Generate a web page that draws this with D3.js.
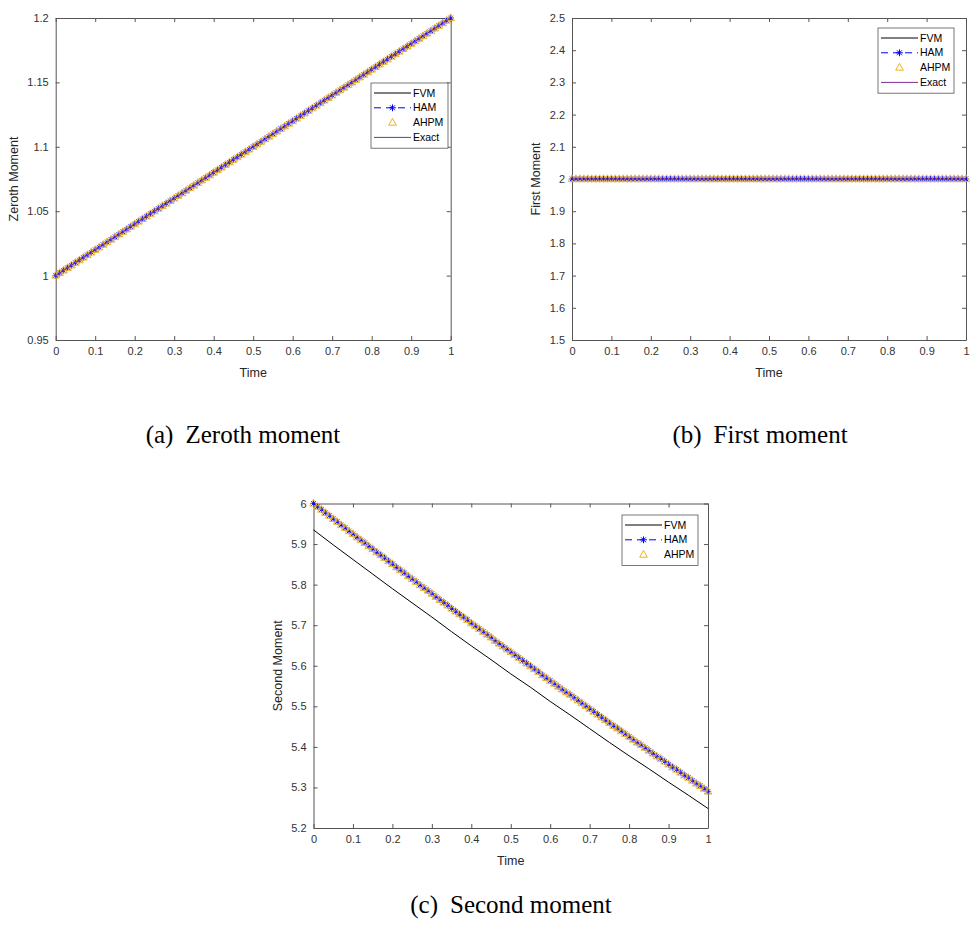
<!DOCTYPE html>
<html>
<head>
<meta charset="utf-8">
<script src="https://cdn.jsdelivr.net/npm/d3@7/dist/d3.min.js"></script>
<style>
  html, body { margin: 0; padding: 0; background: #fff; }
  svg { display: block; }
  .tick text { font-family: "Liberation Sans", Arial, sans-serif; font-size: 11px; fill: #333; }
</style>
</head>
<body>
<svg id="fig" width="970" height="932"></svg>
<script>
// Time grid of the analytic / series solutions (step 0.01)
const time = [
  0, 0.01, 0.02, 0.03, 0.04, 0.05, 0.06, 0.07, 0.08, 0.09,
  0.1, 0.11, 0.12, 0.13, 0.14, 0.15, 0.16, 0.17, 0.18, 0.19,
  0.2, 0.21, 0.22, 0.23, 0.24, 0.25, 0.26, 0.27, 0.28, 0.29,
  0.3, 0.31, 0.32, 0.33, 0.34, 0.35, 0.36, 0.37, 0.38, 0.39,
  0.4, 0.41, 0.42, 0.43, 0.44, 0.45, 0.46, 0.47, 0.48, 0.49,
  0.5, 0.51, 0.52, 0.53, 0.54, 0.55, 0.56, 0.57, 0.58, 0.59,
  0.6, 0.61, 0.62, 0.63, 0.64, 0.65, 0.66, 0.67, 0.68, 0.69,
  0.7, 0.71, 0.72, 0.73, 0.74, 0.75, 0.76, 0.77, 0.78, 0.79,
  0.8, 0.81, 0.82, 0.83, 0.84, 0.85, 0.86, 0.87, 0.88, 0.89,
  0.9, 0.91, 0.92, 0.93, 0.94, 0.95, 0.96, 0.97, 0.98, 0.99,
  1
];
// Time grid of the finite volume solution
const timeFVM = [0, 0.05, 0.1, 0.15, 0.2, 0.25, 0.3, 0.35, 0.4, 0.45, 0.5,
                 0.55, 0.6, 0.65, 0.7, 0.75, 0.8, 0.85, 0.9, 0.95, 1];

// Zeroth moment (HAM, AHPM and exact coincide)
const zerothExact = [
  1, 1.002, 1.004, 1.006, 1.008, 1.01, 1.012, 1.014, 1.016, 1.018,
  1.02, 1.022, 1.024, 1.026, 1.028, 1.03, 1.032, 1.034, 1.036, 1.038,
  1.04, 1.042, 1.044, 1.046, 1.048, 1.05, 1.052, 1.054, 1.056, 1.058,
  1.06, 1.062, 1.064, 1.066, 1.068, 1.07, 1.072, 1.074, 1.076, 1.078,
  1.08, 1.082, 1.084, 1.086, 1.088, 1.09, 1.092, 1.094, 1.096, 1.098,
  1.1, 1.102, 1.104, 1.106, 1.108, 1.11, 1.112, 1.114, 1.116, 1.118,
  1.12, 1.122, 1.124, 1.126, 1.128, 1.13, 1.132, 1.134, 1.136, 1.138,
  1.14, 1.142, 1.144, 1.146, 1.148, 1.15, 1.152, 1.154, 1.156, 1.158,
  1.16, 1.162, 1.164, 1.166, 1.168, 1.17, 1.172, 1.174, 1.176, 1.178,
  1.18, 1.182, 1.184, 1.186, 1.188, 1.19, 1.192, 1.194, 1.196, 1.198,
  1.2
];
const zerothHAM = zerothExact;
const zerothAHPM = zerothExact;
const zerothFVM = [1, 1.01, 1.02, 1.03, 1.04, 1.05, 1.06, 1.07, 1.08, 1.09, 1.1,
                   1.11, 1.12, 1.13, 1.14, 1.15, 1.16, 1.17, 1.18, 1.19, 1.2];

// First moment (conserved)
const firstExact = [
  2, 2, 2, 2, 2, 2, 2, 2, 2, 2,
  2, 2, 2, 2, 2, 2, 2, 2, 2, 2,
  2, 2, 2, 2, 2, 2, 2, 2, 2, 2,
  2, 2, 2, 2, 2, 2, 2, 2, 2, 2,
  2, 2, 2, 2, 2, 2, 2, 2, 2, 2,
  2, 2, 2, 2, 2, 2, 2, 2, 2, 2,
  2, 2, 2, 2, 2, 2, 2, 2, 2, 2,
  2, 2, 2, 2, 2, 2, 2, 2, 2, 2,
  2, 2, 2, 2, 2, 2, 2, 2, 2, 2,
  2, 2, 2, 2, 2, 2, 2, 2, 2, 2,
  2
];
const firstHAM = firstExact;
const firstAHPM = firstExact;
const firstFVM = [2, 2, 2, 2, 2, 2, 2, 2, 2, 2, 2,
                  2, 2, 2, 2, 2, 2, 2, 2, 2, 2];

// Second moment
const secondHAM = [
  6.000, 5.992, 5.985, 5.977, 5.970, 5.962, 5.955, 5.947, 5.940, 5.932,
  5.925, 5.917, 5.910, 5.903, 5.895, 5.888, 5.880, 5.873, 5.866, 5.858,
  5.851, 5.843, 5.836, 5.829, 5.821, 5.814, 5.807, 5.799, 5.792, 5.785,
  5.778, 5.770, 5.763, 5.756, 5.749, 5.741, 5.734, 5.727, 5.720, 5.713,
  5.705, 5.698, 5.691, 5.684, 5.677, 5.670, 5.662, 5.655, 5.648, 5.641,
  5.634, 5.627, 5.620, 5.613, 5.606, 5.599, 5.592, 5.585, 5.577, 5.570,
  5.563, 5.556, 5.549, 5.542, 5.535, 5.529, 5.522, 5.515, 5.508, 5.501,
  5.494, 5.487, 5.480, 5.473, 5.466, 5.459, 5.452, 5.446, 5.439, 5.432,
  5.425, 5.418, 5.411, 5.405, 5.398, 5.391, 5.384, 5.377, 5.371, 5.364,
  5.357, 5.350, 5.344, 5.337, 5.330, 5.324, 5.317, 5.310, 5.304, 5.297,
  5.290
];
const secondAHPM = secondHAM;
const secondFVM = [5.935, 5.898, 5.862, 5.826, 5.790, 5.755, 5.720, 5.684, 5.649, 5.615, 5.580,
                   5.547, 5.512, 5.479, 5.445, 5.411, 5.378, 5.346, 5.313, 5.281, 5.248];

// Tick values
const timeTicks = [0, 0.1, 0.2, 0.3, 0.4, 0.5, 0.6, 0.7, 0.8, 0.9, 1];
const zerothTicks = [0.95, 1, 1.05, 1.1, 1.15, 1.2];
const firstTicks = [1.5, 1.6, 1.7, 1.8, 1.9, 2, 2.1, 2.2, 2.3, 2.4, 2.5];
const secondTicks = [5.2, 5.3, 5.4, 5.5, 5.6, 5.7, 5.8, 5.9, 6];

const COLORS = { FVM: "#000000", HAM: "#0000ff", AHPM: "#edb120", Exact: "#7e2f8e" };
const AXIS_COLOR = "#555";
const SANS = "'Liberation Sans', Arial, sans-serif";
const SERIF = "'Liberation Serif', 'Times New Roman', serif";

const svg = d3.select("#fig");
const fmt = d3.format("~g");

function starPath(s) {
  const d = s * 0.72;
  return `M${-s},0L${s},0M0,${-s}L0,${s}M${-d},${-d}L${d},${d}M${-d},${d}L${d},${-d}`;
}
const trianglePath = "M0,-4.2L3.8,2.6L-3.8,2.6Z";

function drawPanel(cfg) {
  const g = svg.append("g");
  const x = d3.scaleLinear().domain([0, 1]).range([cfg.left, cfg.right]);
  const y = d3.scaleLinear().domain(cfg.yDomain).range([cfg.bottom, cfg.top]);

  // axes with inward ticks on all four sides
  const styleAxis = sel => {
    sel.select(".domain").attr("stroke", AXIS_COLOR).attr("stroke-width", 1);
    sel.selectAll(".tick line").attr("stroke", AXIS_COLOR);
  };
  g.append("g").attr("transform", `translate(0,${cfg.bottom})`)
    .call(d3.axisBottom(x).tickValues(timeTicks).tickFormat(fmt).tickSizeInner(-4).tickSizeOuter(0).tickPadding(7))
    .call(styleAxis);
  g.append("g").attr("transform", `translate(0,${cfg.top})`)
    .call(d3.axisTop(x).tickValues(timeTicks).tickFormat("").tickSizeInner(-4).tickSizeOuter(0))
    .call(styleAxis);
  g.append("g").attr("transform", `translate(${cfg.left},0)`)
    .call(d3.axisLeft(y).tickValues(cfg.yTicks).tickFormat(fmt).tickSizeInner(-4).tickSizeOuter(0).tickPadding(7))
    .call(styleAxis);
  g.append("g").attr("transform", `translate(${cfg.right},0)`)
    .call(d3.axisRight(y).tickValues(cfg.yTicks).tickFormat("").tickSizeInner(-4).tickSizeOuter(0))
    .call(styleAxis);
  g.selectAll(".tick text").attr("font-family", SANS).attr("font-size", 11).attr("fill", "#333");

  // axis titles
  g.append("text")
    .attr("x", (cfg.left + cfg.right) / 2).attr("y", cfg.bottom + 37)
    .attr("text-anchor", "middle").attr("font-family", SANS).attr("font-size", 12.5).attr("fill", "#262626")
    .text("Time");
  g.append("text")
    .attr("transform", `translate(${cfg.yLabelX},${(cfg.top + cfg.bottom) / 2}) rotate(-90)`)
    .attr("text-anchor", "middle").attr("font-family", SANS).attr("font-size", 12.5).attr("fill", "#262626")
    .text(cfg.yLabel);

  // series
  const line = (xs, ys) => d3.line().x((d, i) => x(xs[i])).y(d => y(d))(ys);
  cfg.series.forEach(s => {
    if (s.kind === "line") {
      g.append("path").attr("d", line(s.t, s.v)).attr("fill", "none")
        .attr("stroke", COLORS[s.name]).attr("stroke-width", 1);
    } else if (s.kind === "star") {
      g.append("path").attr("d", line(s.t, s.v)).attr("fill", "none")
        .attr("stroke", COLORS[s.name]).attr("stroke-width", 1).attr("stroke-dasharray", "6,4");
      g.append("g").selectAll("path").data(s.v).join("path")
        .attr("transform", (d, i) => `translate(${x(s.t[i])},${y(d)})`)
        .attr("d", starPath(3.2)).attr("fill", "none")
        .attr("stroke", COLORS[s.name]).attr("stroke-width", 0.9);
    } else if (s.kind === "triangle") {
      g.append("g").selectAll("path").data(s.v).join("path")
        .attr("transform", (d, i) => `translate(${x(s.t[i])},${y(d)})`)
        .attr("d", trianglePath).attr("fill", "none")
        .attr("stroke", COLORS[s.name]).attr("stroke-width", 0.9);
    }
  });

  // legend
  const L = cfg.legend;
  const rowH = 14.8;
  const lg = g.append("g").attr("transform", `translate(${L.x},${L.y})`);
  lg.append("rect").attr("width", L.w).attr("height", cfg.series.length * rowH + 6)
    .attr("fill", "#fff").attr("stroke", AXIS_COLOR).attr("stroke-width", 0.8);
  cfg.series.forEach((s, i) => {
    const cy = 10 + i * rowH;
    const x0 = 3, x1 = 40;
    if (s.kind === "line") {
      lg.append("line").attr("x1", x0).attr("x2", x1).attr("y1", cy).attr("y2", cy)
        .attr("stroke", COLORS[s.name]).attr("stroke-width", 1);
    } else if (s.kind === "star") {
      lg.append("line").attr("x1", x0).attr("x2", x1).attr("y1", cy).attr("y2", cy)
        .attr("stroke", COLORS[s.name]).attr("stroke-width", 1).attr("stroke-dasharray", "7,5");
      lg.append("path").attr("transform", `translate(${(x0 + x1) / 2},${cy})`)
        .attr("d", starPath(3.4)).attr("fill", "none").attr("stroke", COLORS[s.name]).attr("stroke-width", 1);
    } else {
      lg.append("path").attr("transform", `translate(${(x0 + x1) / 2},${cy})`)
        .attr("d", trianglePath).attr("fill", "none").attr("stroke", COLORS[s.name]).attr("stroke-width", 1);
    }
    lg.append("text").attr("x", x1 + 2).attr("y", cy + 3.6)
      .attr("font-family", SANS).attr("font-size", 10.5).attr("fill", "#000").text(s.name);
  });

  // sub-caption
  const cap = svg.append("text")
    .attr("x", cfg.capX).attr("y", cfg.capY).attr("text-anchor", "middle")
    .attr("font-family", SERIF).attr("font-size", 25).attr("fill", "#000");
  cap.append("tspan").text(cfg.capTag);
  cap.append("tspan").attr("dx", 12).text(cfg.capText);
}

drawPanel({
  left: 55.7, right: 450.7, top: 18, bottom: 340,
  yDomain: [0.95, 1.2], yTicks: zerothTicks, yLabel: "Zeroth Moment", yLabelX: 18,
  series: [
    { name: "FVM", kind: "line", t: timeFVM, v: zerothFVM },
    { name: "HAM", kind: "star", t: time, v: zerothHAM },
    { name: "AHPM", kind: "triangle", t: time, v: zerothAHPM },
    { name: "Exact", kind: "line", t: time, v: zerothExact }
  ],
  legend: { x: 371, y: 83, w: 77 },
  capX: 243, capY: 443, capTag: "(a)", capText: "Zeroth moment"
});

drawPanel({
  left: 572, right: 966, top: 18, bottom: 340,
  yDomain: [1.5, 2.5], yTicks: firstTicks, yLabel: "First Moment", yLabelX: 540,
  series: [
    { name: "FVM", kind: "line", t: timeFVM, v: firstFVM },
    { name: "HAM", kind: "star", t: time, v: firstHAM },
    { name: "AHPM", kind: "triangle", t: time, v: firstAHPM },
    { name: "Exact", kind: "line", t: time, v: firstExact }
  ],
  legend: { x: 878, y: 28, w: 76 },
  capX: 760, capY: 443, capTag: "(b)", capText: "First moment"
});

drawPanel({
  left: 313.5, right: 708, top: 503.5, bottom: 828,
  yDomain: [5.2, 6], yTicks: secondTicks, yLabel: "Second Moment", yLabelX: 282,
  series: [
    { name: "FVM", kind: "line", t: timeFVM, v: secondFVM },
    { name: "HAM", kind: "star", t: time, v: secondHAM },
    { name: "AHPM", kind: "triangle", t: time, v: secondAHPM }
  ],
  legend: { x: 622, y: 515, w: 76 },
  capX: 511, capY: 913, capTag: "(c)", capText: "Second moment"
});
</script>
</body>
</html>
